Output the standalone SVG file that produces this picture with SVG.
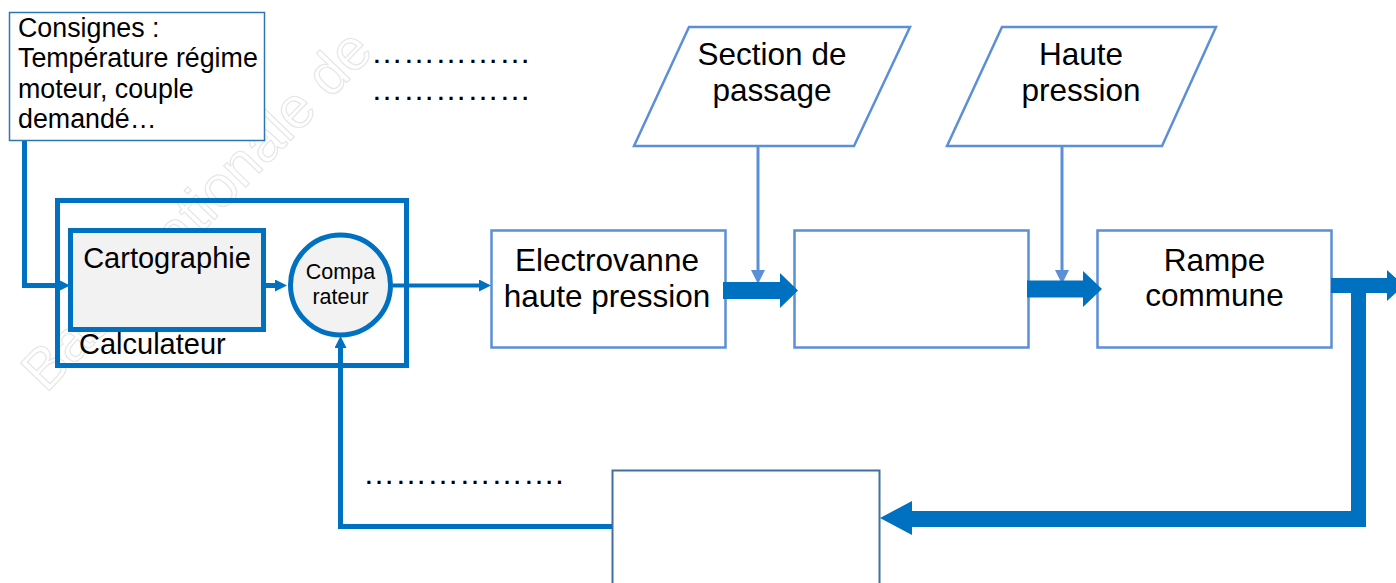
<svg xmlns="http://www.w3.org/2000/svg" width="1396" height="583" viewBox="0 0 1396 583">
<defs>
<style>
text{font-family:"Liberation Sans",Arial,sans-serif;fill:#000}
.big{font-size:31.5px}
.mid{font-size:29px}
.sm{font-size:26.8px}
.cmp{font-size:21.5px}
.dots{font-size:32px}
.lb{fill:#fff;stroke:#5b8fd6;stroke-width:2.5}
.db{fill:none;stroke:#0070c0;stroke-width:5}
.gr{fill:#f2f2f2;stroke:#0070c0;stroke-width:5}
.ln{fill:none;stroke:#0070c0;stroke-width:5}
.ln4{fill:none;stroke:#0070c0;stroke-width:4}
.lnl{fill:none;stroke:#5b8fd6;stroke-width:3}
.blk{fill:#0070c0}
.wm{font-size:58px;fill:none;stroke:#e6e6e6;stroke-width:1.2}
</style>
<marker id="ah" viewBox="0 0 12 12" refX="0" refY="6" markerWidth="12" markerHeight="12" markerUnits="userSpaceOnUse" orient="auto"><path d="M0,0 L12,6 L0,12 z" fill="#0070c0"/></marker>
<marker id="ahl" viewBox="0 0 14 14" refX="0" refY="7" markerWidth="14" markerHeight="14" markerUnits="userSpaceOnUse" orient="auto"><path d="M0,0 L14,7 L0,14 z" fill="#5b8fd6"/></marker>
</defs>
<rect width="1396" height="583" fill="#fff"/>
<g id="watermark"><text class="wm" transform="translate(46,394) rotate(-46)">Base Nationale de</text></g>

<g id="consignes">
<rect x="9.5" y="12.5" width="255" height="128" fill="#fff" stroke="#2e75b6" stroke-width="1.5"/>
<text class="sm" x="18" y="37">Consignes :</text>
<text class="sm" x="18" y="67">Température régime</text>
<text class="sm" x="18" y="98">moteur, couple</text>
<text class="sm" x="18" y="128">demandé…</text>
</g>

<g id="calculateur">
<rect class="db" x="57.5" y="200.5" width="349" height="165"/>
<text class="mid" x="79" y="354">Calculateur</text>
</g>
<g id="cartographie">
<rect class="gr" x="70.5" y="230.5" width="193" height="99"/>
<text class="mid" x="167" y="268" text-anchor="middle">Cartographie</text>
</g>
<g id="comparateur">
<circle class="gr" cx="340.5" cy="285" r="50"/>
<text class="cmp" x="340.5" y="279" text-anchor="middle">Compa</text>
<text class="cmp" x="340.5" y="304" text-anchor="middle">rateur</text>
</g>

<g id="dots-top">
<text class="dots" x="371" y="63">……………</text>
<text class="dots" x="371" y="100">……………</text>
</g>
<g id="dots-bottom"><text class="dots" x="363" y="484">………………<tspan>.</tspan></text></g>

<g id="section">
<polygon class="lb" points="689,27 910,27 854,146 634,146"/>
<text class="big" x="772" y="65" text-anchor="middle">Section de</text>
<text class="big" x="772" y="101" text-anchor="middle">passage</text>
</g>
<g id="hautepression">
<polygon class="lb" points="1002,27 1216,27 1162,146 947,146"/>
<text class="big" x="1081" y="65" text-anchor="middle">Haute</text>
<text class="big" x="1081" y="101" text-anchor="middle">pression</text>
</g>

<g id="electrovanne">
<rect class="lb" x="491.5" y="230.5" width="234" height="117"/>
<text class="big" x="607" y="271" text-anchor="middle">Electrovanne</text>
<text class="big" x="607" y="307" text-anchor="middle">haute pression</text>
</g>
<g id="bloc-vide">
<rect class="lb" x="794.5" y="230.5" width="234" height="117"/>
</g>
<g id="rampe">
<rect class="lb" x="1097.5" y="230.5" width="234" height="117"/>
<text class="big" x="1214.5" y="271" text-anchor="middle">Rampe</text>
<text class="big" x="1214.5" y="306" text-anchor="middle">commune</text>
</g>
<g id="capteur">
<rect x="612.5" y="470.5" width="267" height="130" fill="#fff" stroke="#41719c" stroke-width="2"/>
</g>

<g id="connectors">
<polyline class="ln" points="24.5,141 24.5,285.5 58,285.5" marker-end="url(#ah)"/>
<line class="ln" x1="266" y1="285.5" x2="275" y2="285.5" marker-end="url(#ah)"/>
<line class="ln4" x1="393" y1="285.5" x2="479" y2="285.5" marker-end="url(#ah)"/>
<line class="lnl" x1="758" y1="146" x2="758" y2="270" marker-end="url(#ahl)"/>
<line class="lnl" x1="1062" y1="146" x2="1062" y2="270" marker-end="url(#ahl)"/>
<polygon class="blk" points="723,282 780,282 780,273 798,290.5 780,308 780,299 723,299"/>
<polygon class="blk" points="1027,280.5 1083,280.5 1083,271 1102,289 1083,307 1083,297.5 1027,297.5"/>
<polygon class="blk" points="1331,278 1387,278 1387,270 1404,285.5 1387,301 1387,293 1366,293 1366,527 912,527 912,535 880,518 912,501 912,511 1351,511 1351,293 1331,293"/>
<polyline class="ln" points="612,526.5 340.5,526.5 340.5,348" marker-end="url(#ah)"/>
</g>
</svg>
